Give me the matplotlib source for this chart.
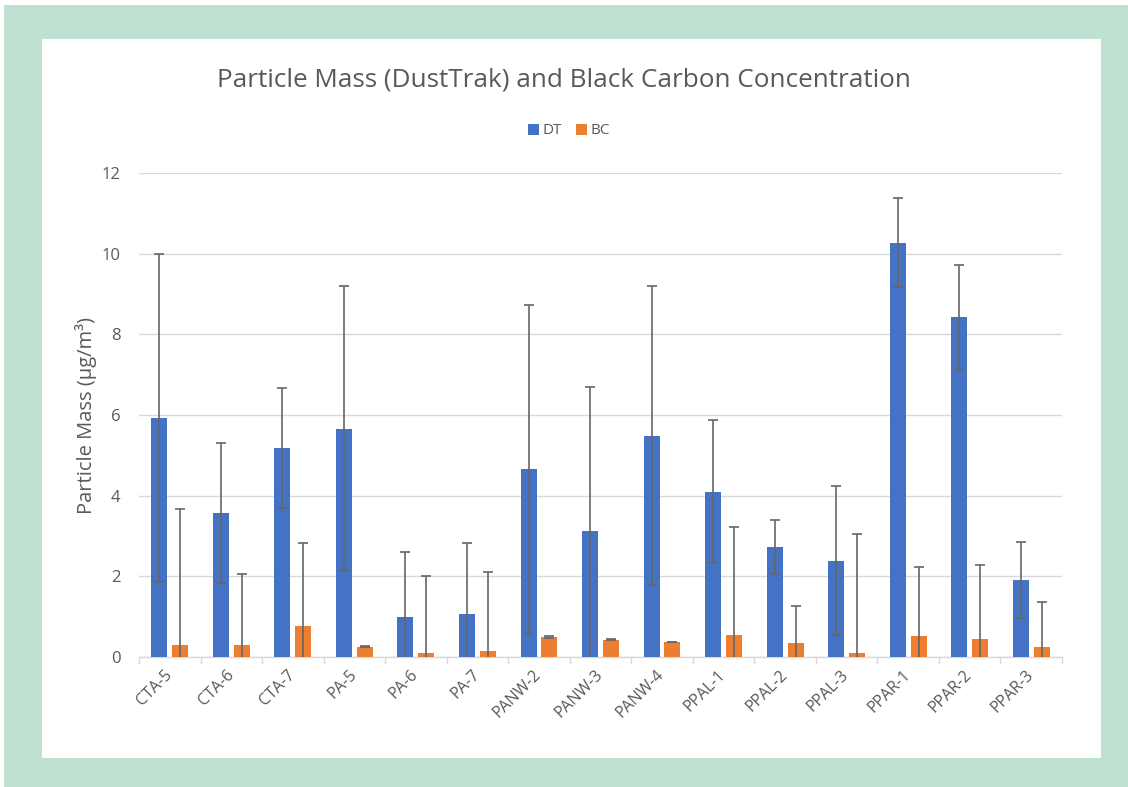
import numpy as np
import matplotlib
matplotlib.use("Agg")
import matplotlib.pyplot as plt
from matplotlib.patches import Rectangle

plt.rcParams['font.family'] = ['Open Sans', 'DejaVu Sans']

sites = ['CTA-5', 'CTA-6', 'CTA-7', 'PA-5', 'PA-6', 'PA-7', 'PANW-2', 'PANW-3',
         'PANW-4', 'PPAL-1', 'PPAL-2', 'PPAL-3', 'PPAR-1', 'PPAR-2', 'PPAR-3']
dt_mean = [5.92, 3.57, 5.19, 5.66, 0.98, 1.06, 4.65, 3.13, 5.49, 4.10, 2.72, 2.39, 10.27, 8.42, 1.90]
dt_err = [4.07, 1.74, 1.49, 3.53, 1.62, 1.76, 4.08, 3.57, 3.70, 1.77, 0.67, 1.85, 1.10, 1.31, 0.94]
bc_mean = [0.29, 0.29, 0.76, 0.26, 0.11, 0.16, 0.50, 0.43, 0.37, 0.55, 0.34, 0.11, 0.51, 0.45, 0.26]
bc_err = [3.37, 1.77, 2.06, 0.02, 1.89, 1.94, 0.02, 0.01, 0.01, 2.67, 0.93, 2.94, 1.73, 1.83, 1.11]

gray = '#595959'
W, H = 1128, 787
fig = plt.figure(figsize=(W / 100, H / 100), dpi=100)
fig.patch.set_facecolor('white')

# green frame round the white chart panel
green = '#BFE1D2'
for (x0, y0, w, h) in [(4, 5, 1124, 34), (4, 5, 38, 782), (1101, 5, 27, 782), (4, 758, 1124, 29)]:
    fig.patches.append(Rectangle((x0 / W, 1 - (y0 + h) / H), w / W, h / H,
                                 transform=fig.transFigure, facecolor=green,
                                 edgecolor='none', zorder=0))

ax = fig.add_axes([139 / W, 1 - 657 / H, (1062 - 139) / W, (657 - 173) / H])
x = np.arange(len(sites))
bw = 0.26
off = 0.17
ekw = dict(ecolor='#666666', elinewidth=1.2, capsize=3.3, capthick=1.2)
ax.bar(x - off, dt_mean, bw, color='#4472C4', yerr=dt_err, error_kw=ekw, label='DT', zorder=3)
ax.bar(x + off, bc_mean, bw, color='#ED7D31', yerr=bc_err, error_kw=ekw, label='BC', zorder=3)

ax.set_xlim(-0.5, len(sites) - 0.5)
ax.set_ylim(0, 12)
ax.set_yticks(range(0, 13, 2))
ax.yaxis.grid(True, color='#D9D9D9', linewidth=1)
ax.set_axisbelow(True)
for s in ['top', 'right', 'left']:
    ax.spines[s].set_visible(False)
ax.spines['bottom'].set_color('#D9D9D9')
ax.spines['bottom'].set_linewidth(1)

ax.set_xticks(x)
ax.set_xticklabels(sites, rotation=45, ha='right', va='center', rotation_mode='anchor',
                   fontsize=11.5, color=gray)
ax.set_xticks(np.arange(-0.5, len(sites), 1), minor=True)
ax.tick_params(axis='x', which='major', length=0, pad=11)
ax.tick_params(axis='x', which='minor', length=5, color='#D9D9D9', width=1)
ax.tick_params(axis='y', length=0, labelsize=12, labelcolor=gray, pad=13.5)
ax.set_ylabel('Particle Mass (µg/m³)', fontsize=14.5, color=gray, labelpad=3)

fig.text(0.5, 1 - 80 / H, 'Particle Mass (DustTrak) and Black Carbon Concentration',
         ha='center', va='center', fontsize=18.8, color=gray)
fig.legend(loc='center', bbox_to_anchor=(569 / W, 1 - 131 / H), ncol=2, frameon=False,
           handlelength=0.7, handleheight=0.7, handletextpad=0.25, columnspacing=0.9,
           fontsize=11, labelcolor=gray)

fig.savefig('out.png', dpi=100)
